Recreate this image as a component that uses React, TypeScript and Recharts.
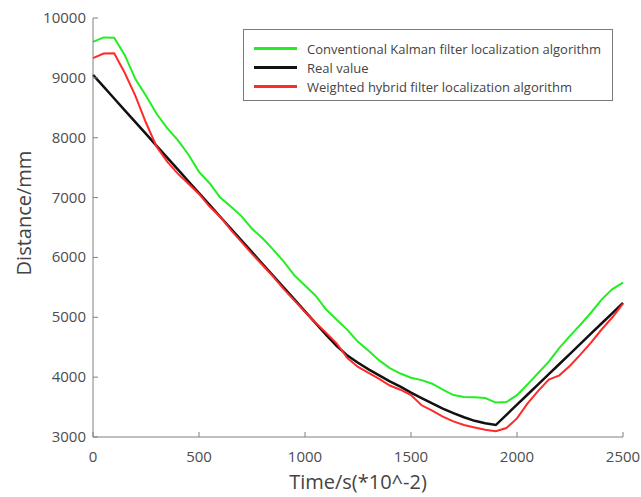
import { LineChart, Line, XAxis, YAxis, Legend } from "recharts";

const times = [
  0, 50, 100, 150, 200, 250, 300, 350, 400, 450, 500, 550, 600, 650, 700, 750, 800, 850, 900, 950,
  1000, 1050, 1100, 1150, 1200, 1250, 1300, 1350, 1400, 1450, 1500, 1550, 1600, 1650, 1700, 1750,
  1800, 1850, 1900, 1950, 2000, 2050, 2100, 2150, 2200, 2250, 2300, 2350, 2400, 2450, 2500,
];

const kalman = [
  9600, 9675, 9670, 9380, 8980, 8700, 8400, 8160, 7960, 7720, 7430, 7240, 7000, 6850, 6690, 6480,
  6320, 6130, 5930, 5700, 5530, 5360, 5130, 4960, 4790, 4590, 4440, 4280, 4150, 4060, 3990, 3950,
  3890, 3790, 3700, 3670, 3665, 3650, 3575, 3585, 3700, 3880, 4070, 4260, 4490, 4690, 4880, 5080,
  5300, 5470, 5580,
];

const real = [
  9050, 8853, 8655, 8458, 8260, 8063, 7865, 7668, 7470, 7273, 7075, 6878, 6680, 6483, 6285, 6088,
  5890, 5693, 5495, 5298, 5100, 4903, 4705, 4520, 4360, 4240, 4130, 4030, 3930, 3840, 3740, 3650,
  3560, 3475, 3400, 3330, 3270, 3230, 3200, 3370, 3540, 3710, 3880, 4050, 4220, 4390, 4560, 4730,
  4900, 5070, 5240,
];

const weighted = [
  9330, 9405, 9410, 9080, 8700, 8250, 7850, 7600, 7400, 7230, 7060, 6850, 6680, 6460, 6260, 6060,
  5870, 5680, 5470, 5280, 5090, 4910, 4740, 4560, 4320, 4170, 4070, 3970, 3860, 3790, 3700, 3530,
  3440, 3340, 3260, 3200, 3160, 3120, 3095, 3150, 3310, 3560, 3770, 3960, 4030, 4190, 4380, 4580,
  4800, 5000, 5230,
];

const xTicks = [0, 500, 1000, 1500, 2000, 2500];
const yTicks = [3000, 4000, 5000, 6000, 7000, 8000, 9000, 10000];

const data = times.map((t, i) => ({
  t,
  kalman: kalman[i],
  real: real[i],
  weighted: weighted[i],
}));

const axisColor = "#808080";
const tickColor = "#4d4d4d";

const XTick = (props: any) => {
  const { x, y, payload } = props;
  return (
    <g>
      <line x1={x} x2={x} y1={y} y2={y - 5} stroke={axisColor} strokeWidth={1} />
      <text x={x} y={y + 25} textAnchor="middle" fill={tickColor} fontSize={15} fontFamily="Open Sans">
        {payload.value}
      </text>
    </g>
  );
};

const YTick = (props: any) => {
  const { x, y, payload } = props;
  return (
    <g>
      <line x1={x} x2={x + 5} y1={y} y2={y} stroke={axisColor} strokeWidth={1} />
      <text x={x - 7} y={y + 5} textAnchor="end" fill={tickColor} fontSize={15} fontFamily="Open Sans">
        {payload.value}
      </text>
    </g>
  );
};

const YLabel = () => (
  <text
    x={31}
    y={213}
    transform="rotate(-90, 31, 213)"
    textAnchor="middle"
    fill="#444"
    fontSize={20}
    fontFamily="Open Sans"
  >
    Distance/mm
  </text>
);

const LegendBox = (props: any) => {
  const { payload } = props;
  return (
    <div
      style={{
        border: "1.5px solid #7a7a7a",
        background: "#fff",
        width: 370,
        height: 72,
        boxSizing: "border-box",
        paddingTop: 9,
        paddingLeft: 10,
        fontFamily: "Open Sans",
        fontSize: 13,
        color: "#444",
        textAlign: "left",
      }}
    >
      {payload.map((p: any) => (
        <div key={p.value} style={{ display: "flex", alignItems: "center", height: 19 }}>
          <span
            style={{
              display: "inline-block",
              width: 43,
              height: 2.5,
              background: p.color,
              marginRight: 10,
            }}
          />
          <span>{p.value}</span>
        </div>
      ))}
    </div>
  );
};

export default function App() {
  return (
    <div style={{ width: 641, height: 497, background: "#fff" }}>
      <style>{`body{margin:0}`}</style>
      <LineChart width={641} height={497} data={data} margin={{ top: 18, right: 18, bottom: 0, left: 0 }}>
        <XAxis
          dataKey="t"
          type="number"
          domain={[0, 2500]}
          ticks={xTicks}
          height={60}
          stroke={axisColor}
          tickLine={false}
          tickSize={0}
          tickMargin={0}
          tick={<XTick />}
          label={{
            value: "Time/s(*10^-2)",
            position: "insideBottom",
            offset: 8,
            fill: "#444",
            fontSize: 20,
            fontFamily: "Open Sans",
          }}
        />
        <YAxis
          type="number"
          domain={[3000, 10000]}
          ticks={yTicks}
          width={93}
          stroke={axisColor}
          tickLine={false}
          tickSize={0}
          tickMargin={0}
          tick={<YTick />}
          label={<YLabel />}
        />
        <Legend
          layout="horizontal"
          verticalAlign="middle"
          align="center"
          wrapperStyle={{ position: "absolute", left: 243, top: 29, width: 370 }}
          content={<LegendBox />}
        />
        <Line
          dataKey="kalman"
          name="Conventional Kalman filter localization algorithm"
          stroke="#22ee22"
          strokeWidth={2}
          dot={false}
          isAnimationActive={false}
        />
        <Line
          dataKey="real"
          name="Real value"
          stroke="#111111"
          strokeWidth={2.5}
          dot={false}
          isAnimationActive={false}
        />
        <Line
          dataKey="weighted"
          name="Weighted hybrid filter localization algorithm"
          stroke="#ff2a2a"
          strokeWidth={2}
          dot={false}
          isAnimationActive={false}
        />
      </LineChart>
    </div>
  );
}
